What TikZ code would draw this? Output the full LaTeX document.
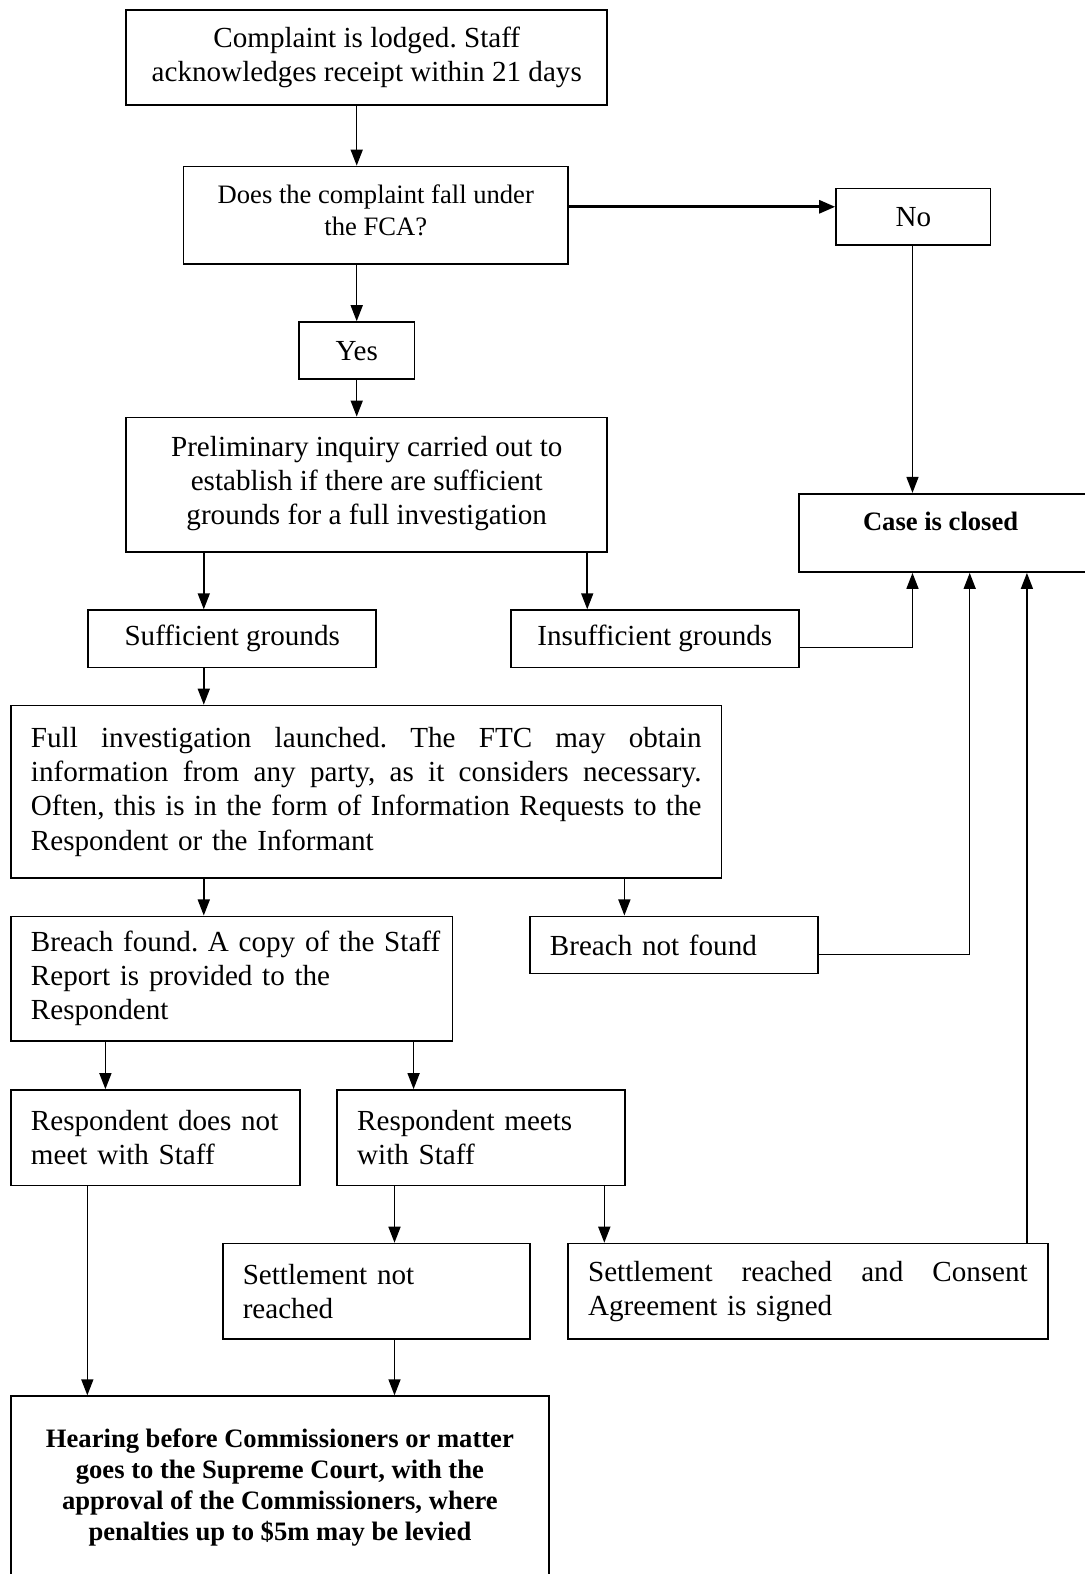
\documentclass[tikz,border=0pt]{standalone}
\usepackage{fontspec}
\setmainfont{Liberation Serif}
\usetikzlibrary{arrows.meta}
\frenchspacing
\hbadness=10000 \hfuzz=50pt
\begin{document}
\begin{tikzpicture}[x=1pt,y=-1pt,
  box/.style={draw, line width=1.7pt, rectangle, inner sep=0pt, anchor=north west, font=\fontsize{29}{34}\selectfont\frenchspacing},
  lbox/.style={box, align=left},
  cbox/.style={box, align=center},
  smallfont/.style={font=\fontsize{26.5}{31}\selectfont\frenchspacing},
  boldfont/.style={font=\fontsize{26.5}{31}\selectfont\bfseries\frenchspacing},
  conn/.style={line width=1.5pt, -{Triangle[length=16pt,width=12pt]}},
  thickconn/.style={line width=2.8pt, -{Triangle[length=16pt,width=13pt]}},
]
\fill[white] (0,0) rectangle (1080,1568);
\useasboundingbox (0,0) rectangle (1080,1568);

% boxes
\node[cbox, minimum width=479pt, minimum height=95pt] (b1) at (125,9)
  {Complaint is lodged. Staff\\acknowledges receipt within 21 days};
\node[cbox, smallfont, minimum width=383pt, minimum height=97pt] (b2) at (182,165)
  {Does the complaint fall under\\the FCA?\\[-21pt]};
\node[cbox, minimum width=154pt, minimum height=56pt] (no) at (832,187) {No};
\node[cbox, minimum width=115pt, minimum height=57pt] (yes) at (297,320) {Yes};
\node[cbox, minimum width=479pt, minimum height=134pt] (prelim) at (125,415)
  {Preliminary inquiry carried out to\\establish if there are sufficient\\grounds for a full investigation\\[-26pt]};
\node[box, minimum width=288pt, minimum height=78pt] (closed) at (795,491) {};
\node[boldfont] (closedtext) at (937,519) {Case is closed};
\node[cbox, minimum width=287pt, minimum height=57pt] (suff) at (87,607) {Sufficient grounds};
\node[cbox, minimum width=287pt, minimum height=57pt] (insuff) at (508,607) {Insufficient grounds};
\node[lbox, text width=668pt, minimum width=708pt, minimum height=172pt] (full) at (10,702)
  {\makebox[668pt][s]{Full\hfill investigation\hfill launched.\hfill The\hfill FTC\hfill may\hfill obtain}\\
   \makebox[668pt][s]{information\hfill from\hfill any\hfill party,\hfill as\hfill it\hfill considers\hfill necessary.}\\
   \makebox[668pt][s]{Often,\hfill this\hfill is\hfill in\hfill the\hfill form\hfill of\hfill Information\hfill Requests\hfill to\hfill the}\\
   Respondent or the Informant\\[2pt]};
\node[lbox, text width=400pt, minimum width=440pt, minimum height=124pt] (bfound) at (10,912)
  {\makebox[400pt][l]{Breach found. A copy of the Staff}\\Report is provided to the\\Respondent};
\node[lbox, text width=247pt, minimum width=287pt, minimum height=57pt] (bnot) at (527,912)
  {Breach not found};
\node[lbox, text width=248pt, minimum width=288pt, minimum height=95pt] (rnot) at (10,1085)
  {Respondent does not\\meet with Staff\\[-28pt]};
\node[lbox, text width=247pt, minimum width=287pt, minimum height=95pt] (rmeet) at (335,1085)
  {Respondent meets\\with Staff\\[-28pt]};
\node[lbox, text width=266pt, minimum width=306pt, minimum height=95pt] (snot) at (221,1238)
  {Settlement not\\reached\\[-28pt]};
\node[lbox, text width=438pt, minimum width=478pt, minimum height=95pt] (sreach) at (565,1238)
  {\makebox[438pt][s]{Settlement\hfill reached\hfill and\hfill Consent}\\Agreement is signed};
\node[cbox, boldfont, minimum width=536pt, minimum height=182pt] (hear) at (10,1390)
  {Hearing before Commissioners or matter\\goes to the Supreme Court, with the\\approval of the Commissioners, where\\penalties up to \$5m may be levied};

% helper coordinates
\coordinate (h206) at (0,206);
\coordinate (h645) at (0,645);
\coordinate (h951) at (0,951);
\coordinate (v87) at (87,0);
\coordinate (v105) at (105,0);
\coordinate (v203) at (203,0);
\coordinate (v393) at (393,0);
\coordinate (v412) at (412,0);
\coordinate (v585) at (585,0);
\coordinate (v602) at (602,0);
\coordinate (v622) at (622,0);
\coordinate (v909) at (909,0);
\coordinate (v966) at (966,0);
\coordinate (v1023) at (1023,0);

% connectors
\draw[conn] (yes.north |- b1.south) -- (yes.north |- b2.north);
\draw[thickconn] (b2.east |- h206) -- (no.west |- h206);
\draw[conn] (v909 |- no.south) -- (v909 |- closed.north);
\draw[conn] (yes.north |- b2.south) -- (yes.north);
\draw[conn] (yes.south) -- (yes.south |- prelim.north);
\draw[conn] (v203 |- prelim.south) -- (v203 |- suff.north);
\draw[conn] (v585 |- prelim.south) -- (v585 |- insuff.north);
\draw[conn] (insuff.east |- h645) -| (v909 |- closed.south);
\draw[conn] (v203 |- suff.south) -- (v203 |- full.north);
\draw[conn] (v203 |- full.south) -- (v203 |- bfound.north);
\draw[conn] (v622 |- full.south) -- (v622 |- bnot.north);
\draw[conn] (bnot.east |- h951) -| (v966 |- closed.south);
\draw[conn] (v105 |- bfound.south) -- (v105 |- rnot.north);
\draw[conn] (v412 |- bfound.south) -- (v412 |- rmeet.north);
\draw[conn] (v87 |- rnot.south) -- (v87 |- hear.north);
\draw[conn] (v393 |- rmeet.south) -- (v393 |- snot.north);
\draw[conn] (v602 |- rmeet.south) -- (v602 |- sreach.north);
\draw[conn] (v393 |- snot.south) -- (v393 |- hear.north);
\draw[conn] (v1023 |- sreach.north) -- (v1023 |- closed.south);
\end{tikzpicture}
\end{document}
